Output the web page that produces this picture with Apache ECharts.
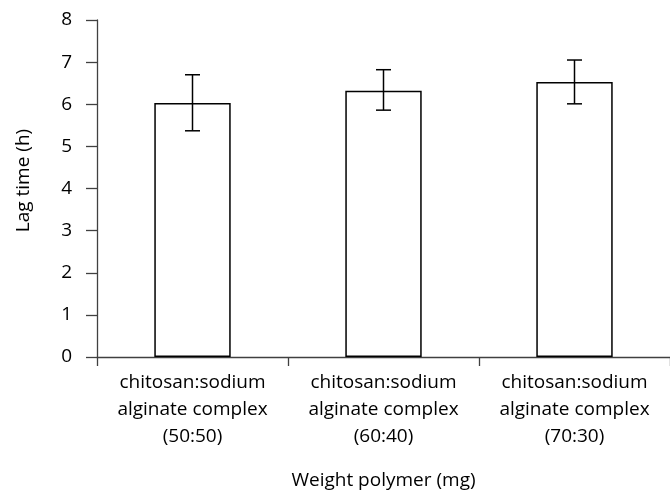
<!DOCTYPE html>
<html>
<head>
<meta charset="utf-8">
<script src="https://cdn.jsdelivr.net/npm/echarts@6/dist/echarts.min.js"></script>
<style>html,body{margin:0;padding:0;background:#fff;}#c{width:670px;height:490px;}</style>
</head>
<body>
<div id="c"></div>
<script>
const categories = [
  'chitosan:sodium\nalginate complex\n(50:50)',
  'chitosan:sodium\nalginate complex\n(60:40)',
  'chitosan:sodium\nalginate complex\n(70:30)'
];
const lagTime = [6.03, 6.32, 6.53];
const errUp = [0.67, 0.50, 0.52];
const errDown = [0.66, 0.46, 0.52];

const FONT = 'Open Sans';
const chart = echarts.init(document.getElementById('c'));
const errData = lagTime.map((v, i) => [i, v - errDown[i], v + errUp[i]]);
chart.setOption({
  animation: false,
  grid: { left: 97, right: 0, top: 20, bottom: 133, containLabel: false, outerBoundsMode: 'none' },
  xAxis: {
    type: 'category',
    data: categories,
    boundaryGap: true,
    name: 'Weight polymer (mg)',
    nameLocation: 'middle',
    nameGap: 114,
    nameTextStyle: { fontFamily: FONT, fontSize: 19, color: '#000' },
    axisLine: { lineStyle: { color: '#404040', width: 1.3 } },
    axisTick: { show: true, length: 9, alignWithLabel: false, lineStyle: { color: '#404040', width: 1.3 } },
    axisLabel: { fontFamily: FONT, fontSize: 19, color: '#000', lineHeight: 27, margin: 12, interval: 0 },
    splitLine: { show: false }
  },
  yAxis: {
    type: 'value',
    min: 0, max: 8, interval: 1,
    name: 'Lag time (h)',
    nameLocation: 'middle',
    nameGap: 64,
    nameTextStyle: { fontFamily: FONT, fontSize: 19, color: '#000', padding: [0, 0, 0, 16] },
    axisLine: { show: true, lineStyle: { color: '#404040', width: 1.3 } },
    axisTick: { show: true, length: 11, lineStyle: { color: '#404040', width: 1.3 } },
    axisLabel: { fontFamily: FONT, fontSize: 19, color: '#000', margin: 25 },
    splitLine: { show: false }
  },
  series: [
    {
      type: 'bar',
      data: lagTime,
      barWidth: '40%',
      itemStyle: { color: '#fff', borderColor: '#000', borderWidth: 1.5 }
    },
    {
      type: 'custom',
      data: errData,
      z: 10,
      renderItem: function (params, api) {
        const x = api.value(0);
        const lo = api.coord([x, api.value(1)]);
        const hi = api.coord([x, api.value(2)]);
        const hw = 7.5;
        const style = { stroke: '#000', lineWidth: 1.5, fill: null };
        return {
          type: 'group',
          children: [
            { type: 'line', shape: { x1: lo[0], y1: lo[1], x2: hi[0], y2: hi[1] }, style: style },
            { type: 'line', shape: { x1: lo[0] - hw, y1: lo[1], x2: lo[0] + hw, y2: lo[1] }, style: style },
            { type: 'line', shape: { x1: hi[0] - hw, y1: hi[1], x2: hi[0] + hw, y2: hi[1] }, style: style }
          ]
        };
      }
    }
  ]
});
</script>
</body>
</html>
